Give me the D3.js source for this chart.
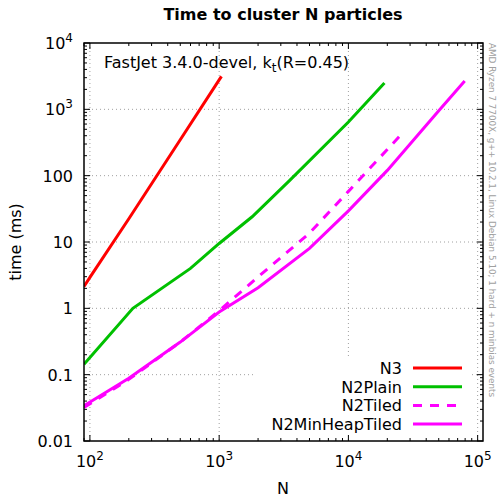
<!DOCTYPE html>
<html><head><meta charset="utf-8">
<script src="https://cdn.jsdelivr.net/npm/d3@7"></script>
<style>body{margin:0;background:#fff}svg{display:block}text{font-family:"DejaVu Sans",sans-serif}</style>
</head><body>
<script>
const seriesNames = ["N3", "N2Plain", "N2Tiled", "N2MinHeapTiled"];
const seriesColors = ["#ff0000", "#00c000", "#ff00ff", "#ff00ff"];
const seriesDash = [null, null, "9,8", null];
const n3N = [90, 100, 200, 500, 1000, 1042];
const n3T = [2.13, 2.93, 22.4, 348, 2780, 3140];
const n2PlainN = [90, 215, 600, 1000, 1800, 3500, 10000, 19000];
const n2PlainT = [0.144, 1.0, 4.0, 9.5, 24, 84, 645, 2500];
const n2TiledN = [90, 200, 500, 1000, 2000, 5000, 10000, 25700];
const n2TiledT = [0.032, 0.085, 0.31, 0.92, 2.97, 13.6, 58, 420];
const n2MinHeapN = [90, 200, 500, 1000, 2000, 5000, 10000, 20000, 50000, 79400];
const n2MinHeapT = [0.034, 0.088, 0.31, 0.88, 2.04, 8.0, 29.5, 120, 955, 2680];
const xTicks = [100, 1000, 10000, 100000];
const xTickExp = ["2", "3", "4", "5"];
const yTicks = [0.01, 0.1, 1, 10, 100, 1000, 10000];
const yTickLabels = ["0.01", "0.1", "1", "10", "100", "10^3", "10^4"];

const W = 497, H = 497;
const L = 84, R = 483, T = 43, B = 441;
const svg = d3.select("body").append("svg").attr("width", W).attr("height", H);
const x = d3.scaleLog().domain([90, 1.1e5]).range([L, R]);
const y = d3.scaleLog().domain([0.01, 1e4]).range([B, T]);

// grid
const grid = svg.append("g").attr("stroke", "#a0a0a0").attr("stroke-width", 1).attr("stroke-dasharray", "1,3");
xTicks.forEach(v => grid.append("line").attr("x1", x(v)).attr("x2", x(v)).attr("y1", T).attr("y2", B));
yTicks.slice(1, -1).forEach(v => grid.append("line").attr("x1", L).attr("x2", R).attr("y1", y(v)).attr("y2", y(v)));

// key background
svg.append("rect").attr("x", 256).attr("y", 358).attr("width", 216).attr("height", 78).attr("fill", "#fff");

// ticks
const tk = svg.append("g").attr("stroke", "#000").attr("stroke-width", 1);
const minorX = [], minorY = [];
for (let d = 10; d <= 1e5; d *= 10) for (let k = 1; k <= 9; k++) { const v = d * k; if (v >= 90 && v <= 1.1e5) minorX.push(v); }
for (let d = 0.01; d < 1e4; d *= 10) for (let k = 2; k <= 9; k++) minorY.push(d * k);
minorX.forEach(v => {
  const maj = xTicks.some(t => Math.abs(t - v) < 1e-6 * t);
  const len = maj ? 6 : 3;
  tk.append("line").attr("x1", x(v)).attr("x2", x(v)).attr("y1", B).attr("y2", B - len);
  tk.append("line").attr("x1", x(v)).attr("x2", x(v)).attr("y1", T).attr("y2", T + len);
});
minorY.forEach(v => {
  tk.append("line").attr("x1", L).attr("x2", L + 3).attr("y1", y(v)).attr("y2", y(v));
  tk.append("line").attr("x1", R).attr("x2", R - 3).attr("y1", y(v)).attr("y2", y(v));
});
yTicks.forEach(v => {
  tk.append("line").attr("x1", L).attr("x2", L + 6).attr("y1", y(v)).attr("y2", y(v));
  tk.append("line").attr("x1", R).attr("x2", R - 6).attr("y1", y(v)).attr("y2", y(v));
});

// series
const series = [[n3N, n3T], [n2PlainN, n2PlainT], [n2TiledN, n2TiledT], [n2MinHeapN, n2MinHeapT]];
svg.append("clipPath").attr("id", "clip").append("rect").attr("x", L).attr("y", T).attr("width", R - L).attr("height", B - T);
const line = d3.line().x(d => x(d[0])).y(d => y(d[1]));
const lg = svg.append("g").attr("clip-path", "url(#clip)");
series.forEach((s, i) => {
  const pts = s[0].map((n, j) => [n, s[1][j]]);
  lg.append("path").datum(pts).attr("d", line).attr("fill", "none")
    .attr("stroke", seriesColors[i]).attr("stroke-width", 3)
    .attr("stroke-dasharray", seriesDash[i]);
});

// frame
svg.append("rect").attr("x", L).attr("y", T).attr("width", R - L).attr("height", B - T)
  .attr("fill", "none").attr("stroke", "#000").attr("stroke-width", 1.5);

// tick labels
const fs = 16;
xTicks.forEach((v, i) => {
  const t = svg.append("text").attr("x", x(v)).attr("y", 467).attr("text-anchor", "middle").attr("font-size", fs);
  t.append("tspan").text("10");
  t.append("tspan").attr("dy", -7).attr("font-size", 12).text(xTickExp[i]);
});
yTicks.forEach((v, i) => {
  const lab = yTickLabels[i];
  const t = svg.append("text").attr("x", 73).attr("y", y(v) + 6).attr("text-anchor", "end").attr("font-size", fs);
  if (lab.includes("^")) {
    const [b, e] = lab.split("^");
    t.append("tspan").text(b);
    t.append("tspan").attr("dy", -7).attr("font-size", 12).text(e);
  } else t.text(lab);
});

// legend
seriesNames.forEach((nm, i) => {
  const yy = 368 + i * 18.7;
  svg.append("text").attr("x", 402).attr("y", yy + 6).attr("text-anchor", "end").attr("font-size", fs).text(nm);
  svg.append("line").attr("x1", 413).attr("x2", 462).attr("y1", yy).attr("y2", yy)
    .attr("stroke", seriesColors[i]).attr("stroke-width", 3).attr("stroke-dasharray", seriesDash[i]);
});

// titles
svg.append("text").attr("x", 283).attr("y", 20).attr("text-anchor", "middle").attr("font-size", 16).attr("font-weight", "bold").text("Time to cluster N particles");
svg.append("text").attr("x", 283).attr("y", 494).attr("text-anchor", "middle").attr("font-size", fs).text("N");
svg.append("text").attr("transform", "translate(21,242) rotate(-90)").attr("text-anchor", "middle").attr("font-size", fs).text("time (ms)");
const lbl = svg.append("text").attr("x", 104).attr("y", 68).attr("font-size", fs);
lbl.append("tspan").text("FastJet 3.4.0-devel, k");
lbl.append("tspan").attr("dy", 4).attr("font-size", 12).text("t");
lbl.append("tspan").attr("dy", -4).text("(R=0.45)");
svg.append("text").attr("transform", "translate(489,43) rotate(90)").attr("font-size", 8.8).attr("fill", "#a0a0a0")
  .text("AMD Ryzen 7 7700X, g++ 10.2.1, Linux Debian 5.10; 1 hard + n minbias events");
</script>
</body></html>
